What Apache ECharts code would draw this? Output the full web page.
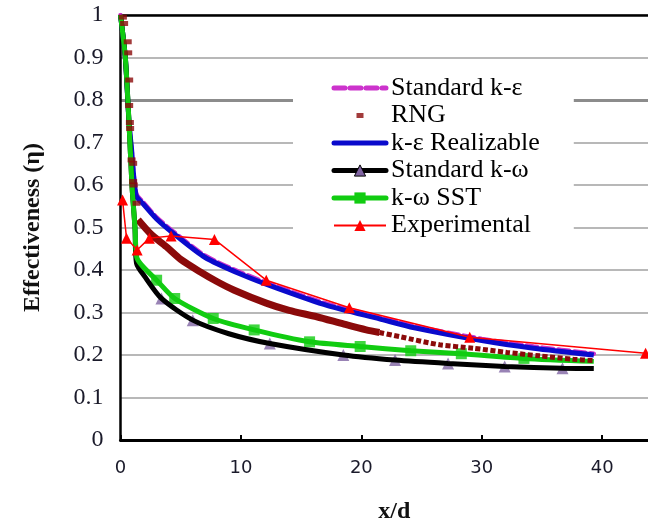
<!DOCTYPE html>
<html>
<head>
<meta charset="utf-8">
<title>Film cooling effectiveness</title>
<script src="https://cdn.jsdelivr.net/npm/echarts@6.0.0/dist/echarts.min.js"></script>
<style>
  html, body { margin: 0; padding: 0; background: #fff; }
  #chart { width: 648px; height: 522px; }
</style>
</head>
<body>
<div id="chart"></div>
<script>
// Axis ticks (the x range runs on past the right edge of the frame)
const xTicks = [0, 10, 20, 30, 40];
const xMax = 43.8;
const yTicks = [0, 0.1, 0.2, 0.3, 0.4, 0.5, 0.6, 0.7, 0.8, 0.9, 1];

// Standard k-epsilon
const stdKeX = [0, 0.4, 0.7, 0.9, 1.3, 1.9, 3.0, 4.4, 7.0, 10.0, 13.1, 17.2, 21.5, 24.4, 30.0, 34.3, 39.3];
const stdKeY = [1.0, 0.9, 0.75, 0.69, 0.58, 0.559, 0.524, 0.49, 0.434, 0.394, 0.36, 0.32, 0.289, 0.268, 0.238, 0.22, 0.203];

// RNG k-epsilon: near-wall samples, main curve, downstream tail
const rngWallX = [0.2, 0.3, 0.6, 0.64, 0.72, 0.72, 0.78, 0.8, 0.92, 1.05, 1.05, 1.1, 1.33];
const rngWallY = [0.995, 0.98, 0.937, 0.911, 0.847, 0.787, 0.747, 0.733, 0.659, 0.651, 0.608, 0.6, 0.557];
const rngMidX = [1.46, 2.5, 3.8, 5.0, 6.6, 8.0, 9.4, 12.1, 14.0, 16.3, 18.5, 20.4, 21.5];
const rngMidY = [0.518, 0.485, 0.455, 0.425, 0.396, 0.373, 0.353, 0.322, 0.305, 0.29, 0.273, 0.259, 0.253];
const rngTailX = [21.5, 23.2, 26.5, 29.3, 32.1, 34.8, 37.6, 39.3];
const rngTailY = [0.253, 0.243, 0.224, 0.216, 0.206, 0.198, 0.19, 0.187];

// Realizable k-epsilon
const realX = [0, 0.4, 0.7, 0.9, 1.3, 1.9, 3.0, 4.4, 7.0, 10.0, 13.1, 17.2, 21.5, 24.4, 30.0, 34.3, 39.3];
const realY = [1.0, 0.9, 0.75, 0.69, 0.575, 0.555, 0.52, 0.486, 0.43, 0.39, 0.356, 0.316, 0.285, 0.264, 0.234, 0.216, 0.2];

// Standard k-omega
const kwX = [0, 0.4, 0.7, 0.95, 1.2, 1.33, 2.0, 3.4, 6.0, 9.0, 12.4, 18.5, 22.8, 27.2, 31.9, 36.7, 39.3];
const kwY = [1.0, 0.9, 0.75, 0.6, 0.5, 0.416, 0.385, 0.333, 0.282, 0.25, 0.227, 0.2, 0.188, 0.18, 0.173, 0.169, 0.168];
const kwMarkX = [3.4, 6.0, 12.4, 18.5, 22.8, 27.2, 31.9, 36.7];
const kwMarkY = [0.333, 0.282, 0.227, 0.2, 0.188, 0.18, 0.173, 0.169];

// k-omega SST
const sstX = [0, 0.4, 0.7, 0.95, 1.2, 1.35, 1.8, 3.0, 4.5, 7.7, 11.1, 15.7, 19.9, 24.1, 28.3, 33.5, 39.3];
const sstY = [1.0, 0.9, 0.75, 0.6, 0.5, 0.43, 0.41, 0.376, 0.333, 0.286, 0.259, 0.231, 0.22, 0.21, 0.203, 0.192, 0.185];
const sstMarkX = [3.0, 4.5, 7.7, 11.1, 15.7, 19.9, 24.1, 28.3, 33.5];
const sstMarkY = [0.376, 0.333, 0.286, 0.259, 0.231, 0.22, 0.21, 0.203, 0.192];

// Measurements
const expX = [0.17, 0.5, 1.38, 2.4, 4.2, 7.8, 12.1, 19.0, 29.0, 43.6];
const expY = [0.565, 0.475, 0.447, 0.475, 0.48, 0.472, 0.376, 0.311, 0.242, 0.204];

const pairs = (xs, ys) => xs.map((x, i) => [x, ys[i]]);

const SERIF = '"Liberation Serif", "Times New Roman", serif';
const C = {
  stdKe: '#cc33cc',
  rng: '#8b0a0a',
  real: '#0a0acc',
  kw: '#000000',
  kwMark: '#8064a2',
  sst: '#11cc11',
  exp: '#ff0000'
};

const smoothCurve = { type: 'line', smooth: 0.25, symbol: 'none', silent: true };

const chart = echarts.init(document.getElementById('chart'), null, { renderer: 'canvas' });

chart.setOption({
  animation: false,
  backgroundColor: '#fff',
  grid: { left: 120.5, right: 0, top: 15, bottom: 82, containLabel: false, outerBoundsMode: 'none' },
  legend: {
    orient: 'vertical',
    left: 293,
    top: 65,
    padding: [10, 34, 12, 38.5],
    backgroundColor: '#fff',
    itemWidth: 52,
    itemHeight: 14,
    itemGap: 1.5,
    itemTextGap: 6,
    selectedMode: false,
    textStyle: { fontFamily: SERIF, fontSize: 26, color: '#000', lineHeight: 20 },
    data: [
      { name: 'Standard k-ε', itemStyle: { opacity: 0 }, lineStyle: { width: 5, type: [11, 5], cap: 'round' } },
      { name: 'RNG', icon: 'path://M0,0M52,14M22.5,4.5h7v5h-7z', itemStyle: { color: C.rng } },
      { name: 'k-ε Realizable', itemStyle: { opacity: 0 }, lineStyle: { width: 5, cap: 'round' } },
      { name: 'Standard k-ω', itemStyle: { borderColor: '#000', borderWidth: 1 }, lineStyle: { width: 5, cap: 'round' } },
      { name: 'k-ω SST', lineStyle: { width: 5, cap: 'round' } },
      { name: 'Experimental', lineStyle: { width: 2 } }
    ]
  },
  xAxis: [{
    type: 'value',
    min: xTicks[0],
    max: xMax,
    interval: xTicks[1] - xTicks[0],
    name: 'x/d',
    nameLocation: 'middle',
    nameGap: 60,
    nameTextStyle: { fontFamily: SERIF, fontSize: 24, fontWeight: 'bold', color: '#111', padding: [0, 0, 0, 20] },
    axisLine: { show: true, lineStyle: { color: '#000', width: 3 } },
    axisTick: { show: true, inside: true, length: 5, lineStyle: { color: '#000', width: 2 } },
    axisLabel: { margin: 19, showMaxLabel: false, fontFamily: '"DejaVu Sans", sans-serif', fontSize: 18, color: '#1a1a2a' },
    splitLine: { show: false }
  }, {
    type: 'value',
    position: 'top',
    min: xTicks[0],
    max: xMax,
    axisLine: { show: true, onZero: false, lineStyle: { color: '#000', width: 2.5 } },
    axisTick: { show: false },
    axisLabel: { show: false },
    splitLine: { show: false }
  }],
  yAxis: [{
    type: 'value',
    min: yTicks[0],
    max: yTicks[yTicks.length - 1],
    interval: 0.1,
    name: 'Effectiveness (η)',
    nameLocation: 'middle',
    nameGap: 76,
    nameTextStyle: { fontFamily: SERIF, fontSize: 24, fontWeight: 'bold', color: '#111' },
    axisLine: { show: true, lineStyle: { color: '#000', width: 2.5 } },
    axisTick: { show: false },
    axisLabel: { margin: 17, fontFamily: SERIF, fontSize: 24, color: '#1a1a2a' },
    splitLine: { show: true, lineStyle: { color: '#a0a0a0', width: 1.6 } }
  }, {
    // heavier rule at 0.8
    type: 'value',
    position: 'right',
    min: 0,
    max: 1,
    interval: 0.8,
    axisLine: { show: false },
    axisTick: { show: false },
    axisLabel: { show: false },
    splitLine: { show: true, showMinLine: false, showMaxLine: false, lineStyle: { color: '#8c8c8c', width: 3 } }
  }],
  series: [
    Object.assign({}, smoothCurve, {
      name: 'Standard k-ε',
      data: pairs(stdKeX, stdKeY),
      itemStyle: { color: C.stdKe },
      lineStyle: { color: C.stdKe, width: 4.5, type: [11, 5], cap: 'round' }
    }),
    {
      name: 'RNG',
      type: 'scatter',
      z: 4,
      silent: true,
      symbol: 'rect',
      symbolSize: [8, 5],
      itemStyle: { color: C.rng },
      data: pairs(rngWallX, rngWallY)
    },
    Object.assign({}, smoothCurve, {
      name: 'RNG',
      data: pairs(rngMidX, rngMidY),
      itemStyle: { color: C.rng },
      lineStyle: { color: C.rng, width: 7 }
    }),
    Object.assign({}, smoothCurve, {
      name: 'RNG',
      z: 4,
      data: pairs(rngTailX, rngTailY),
      itemStyle: { color: C.rng },
      lineStyle: { color: C.rng, width: 5, type: [5, 2.5] }
    }),
    Object.assign({}, smoothCurve, {
      name: 'k-ε Realizable',
      data: pairs(realX, realY),
      itemStyle: { color: C.real },
      lineStyle: { color: C.real, width: 5 }
    }),
    Object.assign({}, smoothCurve, {
      name: 'Standard k-ω',
      symbol: 'triangle',
      showSymbol: false,
      data: pairs(kwX, kwY),
      itemStyle: { color: C.kwMark },
      lineStyle: { color: C.kw, width: 5 }
    }),
    {
      name: 'Standard k-ω',
      type: 'scatter',
      silent: true,
      symbol: 'triangle',
      symbolSize: 12,
      itemStyle: { color: C.kwMark },
      data: pairs(kwMarkX, kwMarkY)
    },
    Object.assign({}, smoothCurve, {
      name: 'k-ω SST',
      symbol: 'rect',
      showSymbol: false,
      data: pairs(sstX, sstY),
      itemStyle: { color: C.sst },
      lineStyle: { color: C.sst, width: 5 }
    }),
    {
      name: 'k-ω SST',
      type: 'scatter',
      silent: true,
      symbol: 'rect',
      symbolSize: 11,
      itemStyle: { color: C.sst },
      data: pairs(sstMarkX, sstMarkY)
    },
    {
      name: 'Experimental',
      type: 'line',
      silent: true,
      symbol: 'triangle',
      symbolSize: 11,
      itemStyle: { color: C.exp },
      lineStyle: { color: C.exp, width: 1.5 },
      data: pairs(expX, expY)
    }
  ]
});
</script>
</body>
</html>
